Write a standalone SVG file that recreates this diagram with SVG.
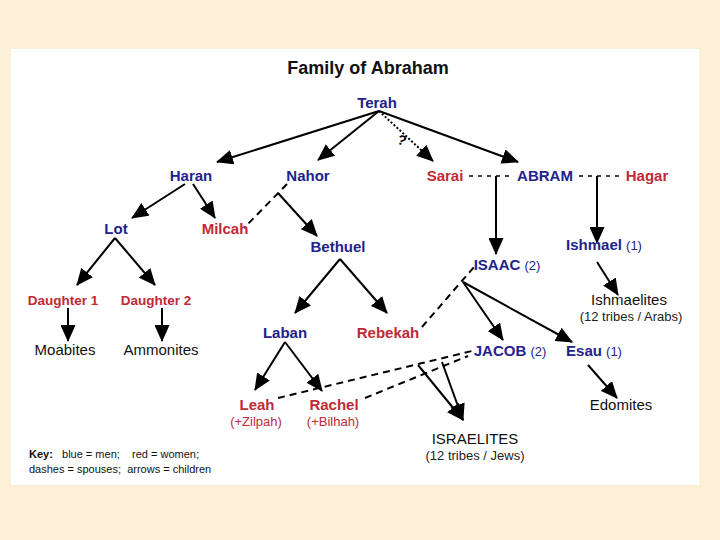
<svg xmlns="http://www.w3.org/2000/svg" width="720" height="540" viewBox="0 0 720 540">
<defs>
<marker id="ah" markerUnits="userSpaceOnUse" markerWidth="17" markerHeight="15" refX="16" refY="7.5" orient="auto" viewBox="0 0 17 15">
<path d="M0,0 L17,7.5 L0,15 z" fill="#000"/>
</marker>
<style>
.m{fill:#22228c;font-family:"Liberation Sans",Arial,sans-serif;font-weight:bold;font-size:15px;text-anchor:middle}
.w{fill:#c02a35;font-family:"Liberation Sans",Arial,sans-serif;font-weight:bold;font-size:15px;text-anchor:middle}
.s{font-family:"Liberation Sans",Arial,sans-serif;font-weight:normal;font-size:13px}
.g{fill:#111;font-family:"Liberation Sans",Arial,sans-serif;font-size:15px;text-anchor:middle}
.sub{fill:#222;font-family:"Liberation Sans",Arial,sans-serif;font-size:13px;text-anchor:middle}
.a{stroke:#000;stroke-width:2;fill:none;marker-end:url(#ah)}
.d{stroke:#000;stroke-width:2;fill:none;stroke-dasharray:7 5}
.dd{stroke:#000;stroke-width:1.5;fill:none;stroke-dasharray:4 5}
</style>
</defs>
<rect x="0" y="0" width="720" height="540" fill="#fbefd7"/>
<rect x="11" y="49" width="688" height="436" fill="#ffffff"/>
<text x="368" y="74" font-family="Liberation Sans,Arial,sans-serif" font-weight="bold" font-size="18" fill="#111" text-anchor="middle">Family of Abraham</text>

<g id="connectors">
<line class="a" x1="379" y1="111" x2="217" y2="162"/>
<line class="a" x1="379" y1="111" x2="318" y2="160"/>
<line class="a" x1="379" y1="111" x2="433" y2="161" stroke-dasharray="2 2" stroke-width="1.5"/>
<line class="a" x1="379" y1="111" x2="518" y2="162"/>
<line class="dd" x1="469" y1="176" x2="513" y2="176"/>
<line class="dd" x1="579" y1="176" x2="623" y2="176"/>
<line class="a" x1="496" y1="176" x2="496" y2="254" stroke-width="1.6"/>
<line class="a" x1="597" y1="176" x2="597" y2="243" stroke-width="1.6"/>
<line class="a" x1="185" y1="184" x2="132" y2="218"/>
<line class="a" x1="193" y1="184" x2="215" y2="218"/>
<line class="d" x1="287" y1="184" x2="244" y2="228"/>
<line class="a" x1="278" y1="193" x2="317" y2="236"/>
<line class="a" x1="115" y1="238" x2="77" y2="285"/>
<line class="a" x1="115" y1="238" x2="155" y2="285"/>
<line class="a" x1="68" y1="308" x2="68" y2="341"/>
<line class="a" x1="162" y1="308" x2="162" y2="341"/>
<line class="a" x1="340" y1="259" x2="295" y2="313"/>
<line class="a" x1="340" y1="259" x2="387" y2="313"/>
<line class="a" x1="285" y1="342" x2="255" y2="390"/>
<line class="a" x1="285" y1="342" x2="322" y2="391"/>
<line class="d" x1="422" y1="327" x2="474" y2="267"/>
<line class="a" x1="463" y1="282" x2="503" y2="340"/>
<line class="a" x1="463" y1="282" x2="572" y2="342"/>
<line class="a" x1="597" y1="262" x2="618" y2="295"/>
<line class="a" x1="588" y1="365" x2="617" y2="398"/>
<line class="d" x1="278" y1="398" x2="472" y2="351"/>
<line class="d" x1="365" y1="398" x2="468" y2="356"/>
<line class="a" x1="418" y1="365" x2="463" y2="420"/>
<line class="a" x1="442" y1="362" x2="463" y2="420"/>
</g>
<text x="402" y="145" font-family="Liberation Sans,Arial,sans-serif" font-size="14" font-weight="bold" fill="#000" text-anchor="middle" transform="rotate(20 402 140)">?</text>

<g id="terah"><text class="m" x="377" y="108">Terah</text></g>
<g id="haran"><text class="m" x="191" y="181">Haran</text></g>
<g id="nahor"><text class="m" x="308" y="181">Nahor</text></g>
<g id="sarai"><text class="w" x="445" y="181">Sarai</text></g>
<g id="abram"><text class="m" x="545" y="181">ABRAM</text></g>
<g id="hagar"><text class="w" x="647" y="181">Hagar</text></g>
<g id="lot"><text class="m" x="116" y="234">Lot</text></g>
<g id="milcah"><text class="w" x="225" y="234">Milcah</text></g>
<g id="bethuel"><text class="m" x="338" y="252">Bethuel</text></g>
<g id="isaac"><text class="m" x="507" y="270">ISAAC <tspan class="s" fill="#22228c">(2)</tspan></text></g>
<g id="ishmael"><text class="m" x="604" y="250">Ishmael <tspan class="s" fill="#22228c">(1)</tspan></text></g>
<g id="daughter1"><text class="w" x="63" y="305" style="font-size:13.5px">Daughter 1</text></g>
<g id="daughter2"><text class="w" x="156" y="305" style="font-size:13.5px">Daughter 2</text></g>
<g id="moabites"><text class="g" x="65" y="355">Moabites</text></g>
<g id="ammonites"><text class="g" x="161" y="355">Ammonites</text></g>
<g id="ishmaelites"><text class="g" x="629" y="305">Ishmaelites</text><text class="sub" x="631" y="321">(12 tribes / Arabs)</text></g>
<g id="laban"><text class="m" x="285" y="338">Laban</text></g>
<g id="rebekah"><text class="w" x="388" y="338">Rebekah</text></g>
<g id="jacob"><text class="m" x="510" y="356">JACOB <tspan class="s" fill="#22228c">(2)</tspan></text></g>
<g id="esau"><text class="m" x="594" y="356">Esau <tspan class="s" fill="#22228c">(1)</tspan></text></g>
<g id="leah"><text class="w" x="257" y="410">Leah</text><text class="sub" x="256" y="426" style="fill:#c02a35">(+Zilpah)</text></g>
<g id="rachel"><text class="w" x="334" y="410">Rachel</text><text class="sub" x="333" y="426" style="fill:#c02a35">(+Bilhah)</text></g>
<g id="edomites"><text class="g" x="621" y="410">Edomites</text></g>
<g id="israelites"><text class="g" x="475" y="444">ISRAELITES</text><text class="sub" x="475" y="460">(12 tribes / Jews)</text></g>
<g id="key" font-family="Liberation Sans,Arial,sans-serif" font-size="11" fill="#111">
<text x="29" y="458" xml:space="preserve"><tspan font-weight="bold">Key:</tspan>   blue = men;    red = women;</text>
<text x="29" y="473" xml:space="preserve">dashes = spouses;  arrows = children</text>
</g>
</svg>
